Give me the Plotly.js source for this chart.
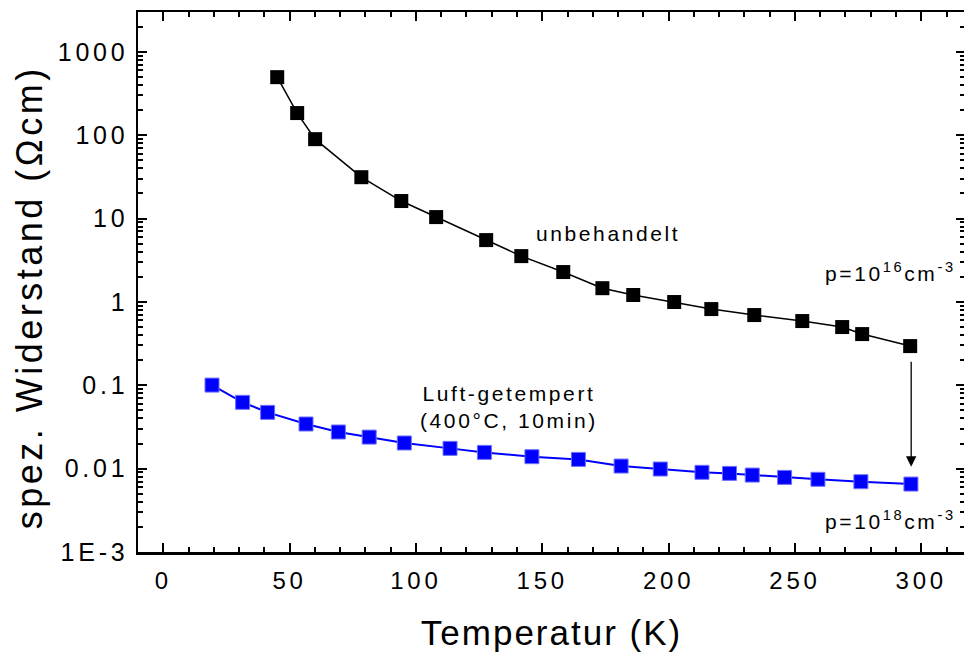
<!DOCTYPE html>
<html>
<head>
<meta charset="utf-8">
<script src="https://cdn.plot.ly/plotly-3.0.1.min.js"></script>
<style>
  html, body { margin: 0; padding: 0; overflow: hidden; background: #fff; }
  #chart { width: 972px; height: 652px; }
  .xtick text, .ytick text { letter-spacing: 3.8px; }
  .annotation-text { letter-spacing: 2.6px; }
  .xtitle { letter-spacing: 2px; }
  .ytitle-ann .annotation-text { letter-spacing: 3.5px; }
</style>
</head>
<body>
<div id="chart"></div>
<script>
// ---- data ----
const tempUnbehandelt = [45.1, 53.0, 60.1, 78.4, 94.2, 108.0, 127.8, 141.7, 158.3, 173.8, 186.0, 202.2, 216.9, 233.9, 252.9, 268.7, 276.6, 295.6];
const rhoUnbehandelt  = [496, 184, 89.5, 31.3, 16.2, 10.4, 5.51, 3.54, 2.28, 1.46, 1.21, 0.996, 0.82, 0.695, 0.589, 0.499, 0.411, 0.295];

const tempLuft = [19.3, 31.4, 41.3, 56.5, 69.3, 81.5, 95.4, 113.5, 127.1, 145.9, 164.3, 181.2, 196.7, 213.2, 224.1, 233.1, 245.9, 259.1, 276.1, 295.9];
const rhoLuft  = [0.1005, 0.0624, 0.0473, 0.0343, 0.0275, 0.0239, 0.0203, 0.0175, 0.01566, 0.0139, 0.0129, 0.01074, 0.00989, 0.00903, 0.00877, 0.00837, 0.00785, 0.00745, 0.00697, 0.00653];

const xTickVals = [0, 50, 100, 150, 200, 250, 300];
const xTickText = ['0', '50', '100', '150', '200', '250', '300'];
const yTickVals = [0.001, 0.01, 0.1, 1, 10, 100, 1000];
const yTickText = ['1E-3', '0.01', '0.1', '1', '10', '100', '1000'];

const xTitle = 'Temperatur (K)';
const yTitle = 'spez. Widerstand (Ωcm)';
const labelUnbehandelt = 'unbehandelt';
const labelLuft = 'Luft-getempert<br>(400°C, 10min)';
const labelP16 = 'p=10<sup>16</sup>cm<sup>-3</sup>';
const labelP18 = 'p=10<sup>18</sup>cm<sup>-3</sup>';

// minor log ticks: 2..9 within each decade
const yMinor = [];
for (let d = -3; d <= 3; d++) {
  for (let k = 2; k <= 9; k++) {
    const v = k * Math.pow(10, d);
    if (v < 3000) yMinor.push(v);
  }
}

const font = 'Liberation Sans, Arial, Helvetica, sans-serif';

const traces = [
  {
    x: tempUnbehandelt, y: rhoUnbehandelt,
    type: 'scatter', mode: 'lines+markers',
    line: { color: '#000000', width: 1.5 },
    marker: { symbol: 'square', size: 14, color: '#000000', line: { width: 0 } },
    showlegend: false, hoverinfo: 'x+y'
  },
  {
    x: tempLuft, y: rhoLuft,
    type: 'scatter', mode: 'lines+markers',
    line: { color: '#0000ff', width: 2 },
    marker: { symbol: 'square', size: 14, color: '#0000ff', line: { width: 1, color: '#6f6fff' } },
    showlegend: false, hoverinfo: 'x+y'
  }
];

const lg = v => Math.log10(v);

const layout = {
  width: 972, height: 652,
  margin: { l: 138, r: 7, t: 12, b: 100 },
  paper_bgcolor: '#ffffff', plot_bgcolor: '#ffffff',
  font: { family: font, color: '#000000', size: 24 },
  xaxis: {
    range: [-10, 317.3],
    showline: true, linecolor: '#000', linewidth: 2.5,
    mirror: 'ticks',
    ticks: 'inside', ticklen: 9, tickwidth: 2, tickcolor: '#000',
    tickmode: 'array', tickvals: xTickVals, ticktext: xTickText,
    tickfont: { family: font, size: 24, color: '#000' },
    ticklabelstandoff: 6,
    minor: { dtick: 10, tick0: 0, ticks: 'inside', ticklen: 5, tickwidth: 2, tickcolor: '#000', showgrid: false },
    showgrid: false, zeroline: false,
    title: { text: xTitle, font: { family: font, size: 35, color: '#000' }, standoff: 28 },
    automargin: false
  },
  yaxis: {
    type: 'log',
    range: [-3, 3.477],
    showline: true, linecolor: '#000', linewidth: 2.5,
    mirror: 'ticks',
    ticks: 'inside', ticklen: 9, tickwidth: 2, tickcolor: '#000',
    tickmode: 'array', tickvals: yTickVals, ticktext: yTickText,
    tickfont: { family: font, size: 25, color: '#000' },
    ticklabelstandoff: 2,
    minor: { tickmode: 'array', tickvals: yMinor, ticks: 'inside', ticklen: 5, tickwidth: 2, tickcolor: '#000', showgrid: false },
    showgrid: false, zeroline: false,
    automargin: false
  },
  annotations: [
    {
      x: -0.1315, y: 0.472, xref: 'paper', yref: 'paper',
      text: yTitle, textangle: -90, showarrow: false,
      font: { family: font, size: 36, color: '#000' },
      xanchor: 'center', yanchor: 'middle'
    },
    {
      x: 176, y: 0.825, xref: 'x', yref: 'y',
      text: labelUnbehandelt, showarrow: false,
      font: { family: font, size: 21, color: '#000' },
      xanchor: 'center', yanchor: 'middle'
    },
    {
      x: 136.7, y: lg(0.0548), xref: 'x', yref: 'y',
      text: labelLuft, showarrow: false,
      font: { family: font, size: 21, color: '#000' },
      xanchor: 'center', yanchor: 'middle', align: 'center'
    },
    {
      x: 261.0, y: 0.357, xref: 'x', yref: 'y',
      text: labelP16, showarrow: false,
      font: { family: font, size: 21, color: '#000' },
      xanchor: 'left', yanchor: 'middle'
    },
    {
      x: 261.0, y: lg(0.00242), xref: 'x', yref: 'y',
      text: labelP18, showarrow: false,
      font: { family: font, size: 21, color: '#000' },
      xanchor: 'left', yanchor: 'middle'
    },
    {
      x: 296, y: lg(0.01055), xref: 'x', yref: 'y',
      ax: 296, ay: lg(0.2), axref: 'x', ayref: 'y',
      text: '', showarrow: true,
      arrowhead: 2, arrowsize: 1.6, arrowwidth: 1.3, arrowcolor: '#000'
    }
  ]
};

Plotly.newPlot('chart', traces, layout, { staticPlot: true, displayModeBar: false }).then(() => {
  const anns = document.querySelectorAll('.annotation');
  if (anns.length) anns[0].classList.add('ytitle-ann');
});
</script>
</body>
</html>
